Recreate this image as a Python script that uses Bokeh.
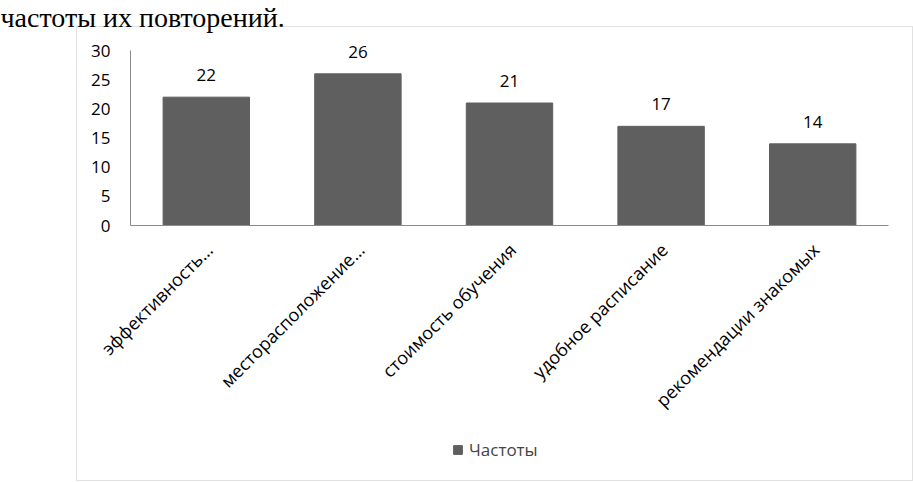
import math
from bokeh.plotting import figure
from bokeh.models import (ColumnDataSource, LabelSet, Label, BoxAnnotation, Legend,
                          LegendItem, Range1d, FixedTicker)
from bokeh.core.properties import value
from bokeh.embed import file_html
from bokeh.resources import INLINE

categories = ["эффективность…", "месторасположение…", "стоимость обучения",
              "удобное расписание", "рекомендации знакомых"]
frequencies = [22, 26, 21, 17, 14]
y_ticks = [0, 5, 10, 15, 20, 25, 30]
series_name = "Частоты"
caption = "частоты их повторений."

FONT = "Open Sans"
BAR = "#5f5f5f"
AXIS = "#8a8a8a"
W, H = 913, 482
LABEL_SHIFT = 0.02

n = len(categories)
xs = [i + 0.5 for i in range(n)]
tick_pos = [i + 0.5 + LABEL_SHIFT for i in range(n)]

src = ColumnDataSource(dict(x=xs, val=frequencies,
                            txt=[str(v) for v in frequencies]))

# frame covers the whole canvas; axes drawn at fixed locations inside it
px_x = 758 / n          # pixels per category
px_y = 175 / 30         # pixels per unit
x_range = Range1d(-130 / px_x, n + (W - 888) / px_x)
y_range = Range1d(-(H - 225) / px_y, 30 + 50 / px_y)

p = figure(width=W, height=H, x_range=x_range, y_range=y_range,
           output_backend="svg", toolbar_location=None, min_border=0)
p.title.text = ""
p.outline_line_color = None
p.xgrid.visible = False
p.ygrid.visible = False

r = p.vbar(x="x", top="val", width=0.57, source=src,
           fill_color=BAR, line_color=BAR)

p.yaxis.fixed_location = 0
p.yaxis.bounds = (0, 30)
p.yaxis.ticker = FixedTicker(ticks=y_ticks)
p.yaxis.axis_line_color = AXIS
p.yaxis.major_tick_line_color = None
p.yaxis.minor_tick_line_color = None
p.yaxis.major_label_standoff = 14
p.yaxis.major_label_text_font = FONT
p.yaxis.major_label_text_font_size = "17px"
p.yaxis.major_label_text_color = "#000000"

p.xaxis.fixed_location = 0
p.xaxis.bounds = (0, n)
p.xaxis.ticker = FixedTicker(ticks=tick_pos)
p.xaxis.major_label_overrides = {t: c for t, c in zip(tick_pos, categories)}
p.xaxis.axis_line_color = AXIS
p.xaxis.major_tick_line_color = None
p.xaxis.minor_tick_line_color = None
p.xaxis.major_label_orientation = math.pi / 4
p.xaxis.major_label_standoff = 15
p.xaxis.major_label_text_font = FONT
p.xaxis.major_label_text_font_size = "18px"
p.xaxis.major_label_text_color = "#000000"

labels = LabelSet(x="x", y="val", text="txt", source=src, y_offset=22,
                  text_align="center", text_baseline="middle",
                  text_font=value(FONT), text_font_size="17px",
                  text_color="#000000")
p.add_layout(labels)

legend = Legend(items=[LegendItem(label=series_name, renderers=[r])],
                location=(452, 21), orientation="horizontal",
                border_line_color=None, background_fill_alpha=0,
                padding=0, margin=0, spacing=0, glyph_width=11, glyph_height=11,
                label_standoff=6, label_text_font=FONT, label_text_font_size="17px")
p.add_layout(legend)

frame_box = BoxAnnotation(left=76, right=912, top=H - 26, bottom=H - 480,
                          left_units="screen", right_units="screen",
                          top_units="screen", bottom_units="screen",
                          fill_alpha=0, line_color="#9a9a9a", line_width=1)
p.add_layout(frame_box)

title = Label(x=0, y=H - 17, x_units="screen", y_units="screen", text=caption,
              text_font="Liberation Serif", text_font_size="28px",
              text_color="#000000", text_baseline="alphabetic")
p.add_layout(title)

open("out.html", "w").write(file_html(p, INLINE))
